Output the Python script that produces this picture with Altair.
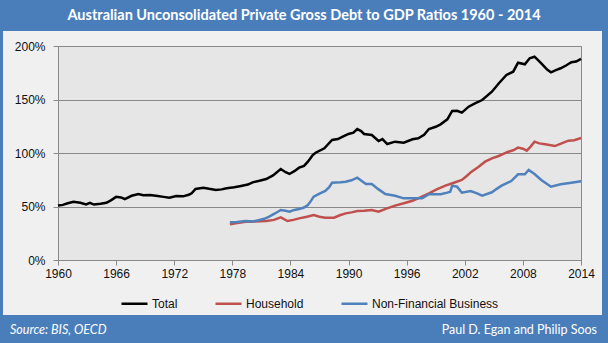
import altair as alt
import pandas as pd

# ---- data ----
total_year = [1960.0, 1960.5, 1961.0, 1961.6, 1962.3, 1962.9, 1963.3, 1963.7, 1964.4, 1965.0,
              1965.5, 1966.0, 1966.5, 1966.9, 1967.6, 1968.3, 1968.8, 1969.5, 1970.3, 1970.9,
              1971.5, 1972.2, 1972.9, 1973.5, 1973.8, 1974.2, 1975.0, 1975.6, 1976.3, 1976.9,
              1977.4, 1978.2, 1978.9, 1979.6, 1980.1, 1980.8, 1981.5, 1982.2, 1983.0, 1983.5,
              1983.9, 1984.4, 1984.9, 1985.4, 1985.8, 1986.3, 1986.6, 1987.5, 1988.3, 1988.9,
              1989.4, 1990.0, 1990.5, 1990.9, 1991.3, 1991.6, 1992.4, 1993.1, 1993.5, 1994.0,
              1994.8, 1995.7, 1996.6, 1997.2, 1997.8, 1998.3, 1999.0, 1999.5, 2000.2, 2000.7,
              2001.2, 2001.7, 2002.4, 2003.1, 2003.8, 2004.8, 2005.5, 2006.3, 2007.0, 2007.5,
              2008.2, 2008.7, 2009.2, 2009.9, 2010.5, 2010.9, 2011.4, 2011.9, 2012.5, 2013.0,
              2013.5, 2014.0]
total_val = [51.0, 51.5, 53.0, 54.5, 53.5, 52.0, 53.5, 51.8, 52.5, 53.5,
             56.0, 59.0, 58.5, 57.0, 60.0, 61.7, 60.5, 60.8, 59.8, 59.0,
             58.2, 59.8, 59.5, 61.0, 62.3, 66.4, 67.6, 66.5, 65.4, 66.0,
             67.0, 68.0, 69.2, 70.5, 72.6, 74.0, 75.7, 79.0, 85.0, 82.0,
             80.4, 83.0, 86.3, 88.0, 91.9, 98.0, 100.3, 104.4, 112.2, 113.0,
             115.3, 117.8, 119.0, 122.4, 120.5, 117.8, 116.8, 111.2, 113.0, 108.4,
             110.6, 109.7, 112.8, 113.7, 117.0, 122.4, 124.5, 126.8, 131.5, 139.3,
             139.5, 137.7, 143.3, 146.5, 149.5, 157.3, 165.0, 172.9, 176.0, 184.4,
             182.9, 188.5, 190.0, 183.8, 178.0, 175.4, 177.5, 179.2, 182.0, 184.8,
             185.5, 188.0]

hh_year = [1977.75, 1978.5, 1979.4, 1980.4, 1981.5, 1982.3, 1983.0, 1983.7, 1984.3, 1984.9,
           1985.7, 1986.4, 1987.0, 1987.6, 1988.5, 1989.1, 1989.7, 1990.3, 1990.9, 1991.6,
           1992.4, 1993.1, 1993.9, 1994.8, 1995.7, 1996.6, 1997.4, 1998.3, 1999.1, 2000.0,
           2000.8, 2001.7, 2002.2, 2002.7, 2003.4, 2004.1, 2004.8, 2005.5, 2006.5, 2007.0,
           2007.5, 2008.0, 2008.4, 2008.8, 2009.2, 2009.7, 2010.3, 2011.3, 2012.0, 2012.7,
           2013.3, 2014.0]
hh_val = [33.3, 34.5, 35.8, 36.0, 36.4, 37.5, 39.8, 36.4, 37.5, 38.9,
          40.5, 42.0, 40.5, 39.6, 39.6, 41.8, 43.6, 44.5, 45.8, 46.0,
          46.7, 45.2, 48.0, 50.8, 53.0, 55.4, 58.5, 62.3, 66.0, 69.5,
          72.0, 74.8, 78.5, 82.6, 87.0, 91.9, 95.0, 97.2, 101.2, 102.5,
          105.0, 104.0, 102.2, 106.0, 110.6, 109.0, 108.1, 106.5, 109.0, 111.5,
          112.0, 114.0]

nfb_year = [1977.75, 1978.5, 1979.4, 1980.1, 1980.8, 1981.3, 1981.8, 1982.4, 1983.0, 1983.5,
            1983.9, 1984.4, 1984.9, 1985.4, 1985.8, 1986.1, 1986.4, 1987.0, 1987.6, 1988.0,
            1988.3, 1989.2, 1989.7, 1990.3, 1990.9, 1991.4, 1991.8, 1992.4, 1993.1, 1993.8,
            1994.8, 1995.7, 1996.6, 1997.6, 1998.3, 1999.5, 2000.2, 2000.5, 2000.7, 2001.2,
            2001.7, 2002.6, 2003.2, 2003.8, 2004.8, 2005.3, 2005.8, 2006.8, 2007.5, 2008.2,
            2008.6, 2009.2, 2009.9, 2010.9, 2011.9, 2013.0, 2014.0]
nfb_val = [35.2, 35.5, 36.4, 36.0, 37.4, 38.5, 40.5, 43.5, 46.7, 46.0,
           45.2, 46.8, 47.7, 49.0, 51.4, 55.0, 59.2, 62.0, 64.5, 68.0,
           72.2, 72.6, 73.2, 74.5, 76.9, 73.5, 71.0, 71.0, 66.0, 61.7,
           60.1, 57.6, 57.6, 57.6, 61.4, 61.4, 63.0, 63.8, 69.5, 68.5,
           62.9, 64.5, 62.5, 60.1, 63.3, 66.5, 69.5, 73.8, 80.1, 80.1,
           84.1, 80.4, 74.8, 68.5, 70.7, 72.2, 73.5]

series_names = ["Total", "Household", "Non-Financial Business"]
series_colors = ["#000000", "#C0504D", "#4F81BD"]
x_ticks = [1960, 1966, 1972, 1978, 1984, 1990, 1996, 2002, 2008, 2014]
y_ticks = [0, 50, 100, 150, 200]

title_text = "Australian Unconsolidated Private Gross Debt to GDP Ratios 1960 - 2014"
source_text = "Source: BIS, OECD"
author_text = "Paul D. Egan and Philip Soos"

rows = []
for name, ys, vs in zip(series_names, [total_year, hh_year, nfb_year], [total_val, hh_val, nfb_val]):
    for y, v in zip(ys, vs):
        rows.append({"year": y, "value": v, "series": name})
df = pd.DataFrame(rows)

# ---- layout ----
W, H = 523, 214          # plot area
PL, PT = 58, 46          # plot origin in page
BLUE = "#4A7EBB"
LABEL_FONT = "Liberation Sans"
one = alt.Data(values=[{}])

def band(x0, x1, y0, y1):
    return alt.Chart(one).mark_rect(color=BLUE).encode(
        x=alt.value(x0 - PL), x2=alt.value(x1 - PL),
        y=alt.value(y0 - PT), y2=alt.value(y1 - PT))

deco = [
    band(0, 608, 0, 31),
    band(0, 608, 315, 343),
    band(0, 3, 0, 343),
    band(602, 608, 0, 343),
]

title = alt.Chart(one).mark_text(
    text=title_text, font="Lato", fontWeight="bold", fontSize=14.5, color="white",
    align="center", baseline="middle").encode(x=alt.value(304 - PL), y=alt.value(16 - PT))
source = alt.Chart(one).mark_text(
    text=source_text, font="Lato", fontStyle="italic", fontSize=12.5, color="white",
    align="left", baseline="middle").encode(x=alt.value(10 - PL), y=alt.value(330 - PT))
author = alt.Chart(one).mark_text(
    text=author_text, font="Lato", fontSize=12.5, color="white",
    align="right", baseline="middle").encode(x=alt.value(597 - PL), y=alt.value(330 - PT))

lines = alt.Chart(df).mark_line(strokeWidth=2.5, interpolate="linear").encode(
    x=alt.X("year:Q",
            scale=alt.Scale(domain=[1960, 2014], nice=False, zero=False),
            axis=alt.Axis(values=x_ticks, format="d", title=None, grid=False,
                          tickSize=5, labelPadding=3, labelFlush=False)),
    y=alt.Y("value:Q",
            scale=alt.Scale(domain=[0, 200], nice=False),
            axis=alt.Axis(values=y_ticks, labelExpr="datum.value + '%'", title=None,
                          grid=True, tickSize=5, labelPadding=8, labelFlush=False)),
    color=alt.Color("series:N",
                    scale=alt.Scale(domain=series_names, range=series_colors),
                    legend=alt.Legend(orient="none", direction="horizontal", title=None,
                                      legendX=120 - PL, legendY=289 - PT,
                                      symbolType="stroke", symbolSize=676,
                                      symbolStrokeWidth=2.5, labelOffset=3,
                                      columnPadding=32, labelFontSize=12,
                                      labelFont=LABEL_FONT, labelColor="#111111")),
    detail="series:N",
)

chart = alt.layer(*deco, title, source, author, lines).properties(
    width=W, height=H,
    autosize=alt.AutoSizeParams(type="none"),
    padding={"left": PL, "top": PT, "right": 608 - PL - W, "bottom": 343 - PT - H},
    background="#F0F0F0",
).configure_view(
    fill="#E6E6E6", stroke="#898989", strokeWidth=1
).configure_axis(
    domainColor="#898989", tickColor="#898989", gridColor="#898989", gridWidth=1,
    labelFont=LABEL_FONT, labelFontSize=12, labelColor="#111111",
)

chart.save("out.html", embed_options={"renderer": "svg", "actions": False})
